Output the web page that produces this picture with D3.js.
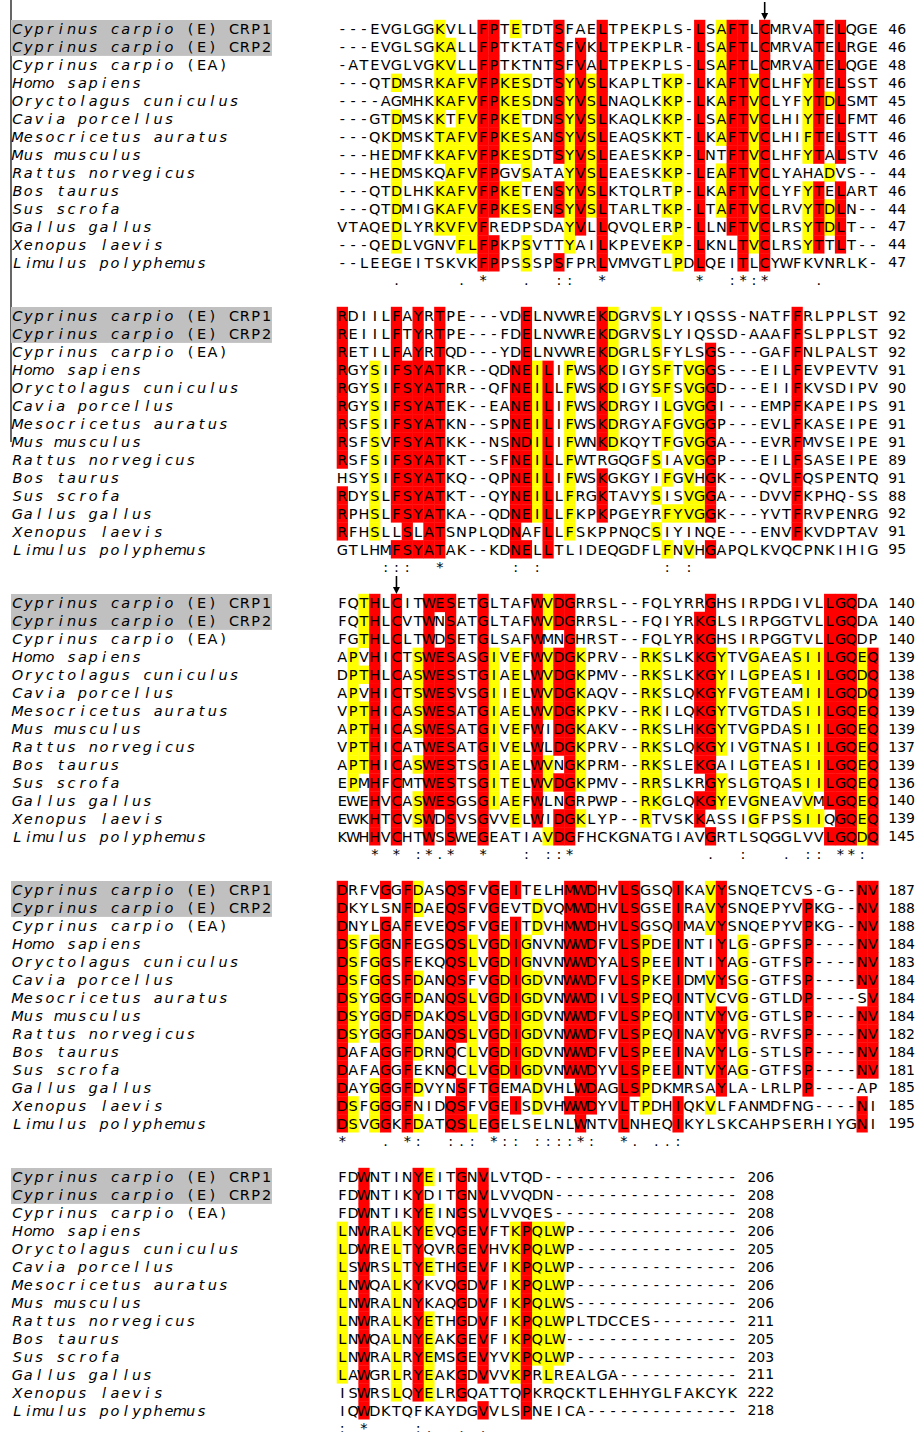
<!DOCTYPE html>
<html><head><meta charset="utf-8">
<script src="https://cdn.jsdelivr.net/npm/d3@7"></script>
<style>body{margin:0;background:#fff}svg{display:block}</style>
</head><body><svg id="c" width="917" height="1432"></svg>
<script>
// ---------- DATA ----------
const speciesNames = ["Cyprinus carpio","Cyprinus carpio","Cyprinus carpio","Homo sapiens","Oryctolagus cuniculus","Cavia porcellus","Mesocricetus auratus","Mus musculus","Rattus norvegicus","Bos taurus","Sus scrofa","Gallus gallus","Xenopus laevis","Limulus polyphemus"];
const nameSuffix = [" (E) CRP1"," (E) CRP2"," (EA)","","","","","","","","","","",""];
const highlightedNames = [0,1];

const block1 = [
"---EVGLGGKVLLFPTETDTSFAELTPEKPLS-LSAFTLCMRVATELQGE",
"---EVGLSGKALLFPTKTATSFVKLTPEKPLR-LSAFTLCMRVATELRGE",
"-ATEVGLVGKVLLFPTKTNTSFVALTPEKPLS-LSAFTLCMRVATELQGE",
"---QTDMSRKAFVFPKESDTSYVSLKAPLTKP-LKAFTVCLHFYTELSST",
"----AGMHKKAFVFPKESDNSYVSLNAQLKKP-LKAFTVCLYFYTDLSMT",
"---GTDMSKKTFVFPKETDNSYVSLKAQLKKP-LSAFTVCLHIYTELFMT",
"---QKDMSKTAFVFPKESANSYVSLEAQSKKT-LKAFTVCLHIFTELSTT",
"---HEDMFKKAFVFPKESDTSYVSLEAESKKP-LNTFTVCLHFYTALSTV",
"---HEDMSKQAFVFPGVSATAYVSLEAESKKP-LEAFTVCLYAHADVS--",
"---QTDLHKKAFVFPKETENSYVSLKTQLRTP-LKAFTVCLYFYTELART",
"---QTDMIGKAFVFPKESENSYVSLTARLTKP-LTAFTVCLRVYTDLN--",
"VTAQEDLYRKVFVFREDPSDAYVLLQVQLERP-LLNFTVCLRSYTDLT--",
"---QEDLVGNVFLFPKPSVTTYAILKPEVEKP-LKNLTVCLRSYTTLT--",
"--LEEGEITSKVKFPPSSSPSFPRLVMVGTLPDLQEITLCYWFKVNRLK-"];
const block2 = [
"RDIILFAYRTPE---VDELNVWREKDGRVSLYIQSSS-NATFFRLPPLST",
"REIILFTYRTPE---FDELNVWREKDGRVSLYIQSSD-AAAFFSLPPLST",
"RETILFAYRTQD---YDELNVWREKDGRLSFYLSGS---GAFFNLPALST",
"RGYSIFSYATKR--QDNEILIFWSKDIGYSFTVGGS---EILFEVPEVTV",
"RGYSIFSYATRR--QFNEILLFWSKDIGYSFSVGGD---EIIFKVSDIPV",
"RGYSIFSYATEK--EANEILIFWSKDRGYILGVGGI---EMPFKAPEIPS",
"RSFSIFSYATKN--SPNEILIFWSKDRGYAFGVGGP---EVLFKASEIPE",
"RSFSVFSYATKK--NSNDILIFWNKDKQYTFGVGGA---EVRFMVSEIPE",
"RSFSIFSYATKT--SFNEILLFWTRGQGFSIAVGGP---EILFSASEIPE",
"HSYSIFSYATKQ--QPNEILIFWSKGKGYIFGVHGK---QVLFQSPENTQ",
"RDYSLFSYATKT--QYNEILLFRGKTAVYSISVGGA---DVVFKPHQ-SS",
"RPHSLFSYATKA--QDNEILLFKPKPGEYRFYVGGK---YVTFRVPENRG",
"RFHSLLSLATSNPLQDNAFLLFSKPPNQCSIYINQE---ENVFKVDPTAV",
"GTLHMFSYATAK--KDNELLTLIDEQGDFLFNVHGAPQLKVQCPNKIHIG"];
const block3 = [
"FQTHLCITWESETGLTAFWVDGRRSL--FQLYRRGHSIRPDGIVLLGQDA",
"FQTHLCVTWNSATGLTAFWVDGRRSL--FQIYRKGLSIRPGGTVLLGQDA",
"FGTHLCLTWDSETGLSAFWMNGHRST--FQLYRKGHSIRPGGTVLLGQDP",
"APVHICTSWESASGIVEFWVDGKPRV--RKSLKKGYTVGAEASIILGQEQ",
"DPTHLCASWESSTGIAELWVDGKPMV--RKSLKKGYILGPEASIILGQDQ",
"APVHICTSWESVSGIIELWVDGKAQV--RKSLQKGYFVGTEAMIILGQDQ",
"VPTHICASWESATGIAELWVDGKPKV--RKILQKGYTVGTDASIILGQEQ",
"APTHICASWESATGIVEFWIDGKAKV--RKSLHKGYTVGPDASIILGQEQ",
"VPTHICATWESATGIVELWLDGKPRV--RKSLQKGYIVGTNASIILGQEQ",
"APTHICASWESTSGIAELWVNGKPRM--RKSLEKGAILGTEASIILGQEQ",
"EPMHFCMTWESTSGITELWVDGKPMV--RRSLKRGYSLGTQASIILGQEQ",
"EWEHVCASWESGSGIAEFWLNGRPWP--RKGLQKGYEVGNEAVVMLGQEQ",
"EWKHTCVSWDSVSGVVELWIDGKLYP--RTVSKKASSIGFPSSIIQGQEQ",
"KWHHVCHTWSSWEGEATIAVDGFHCKGNATGIAVGRTLSQGGLVVLGQDQ"];
const block4 = [
"DRFVGGFDASQSFVGEITELHMWDHVLSGSQIKAVYSNQETCVS-G--NV",
"DKYLSNFDAEQSFVGEVTDVQMWDHVLSGSEIRAVYSNQEPYVPKG--NV",
"DNYLGAFEVEQSFVGEITDVHMWDHVLSGSQIMAVYSNQEPYVPKG--NV",
"DSFGGNFEGSQSLVGDIGNVNWWDFVLSPDEINTIYLG-GPFSP----NV",
"DSFGGSFEKQQSLVGDIGNVNWWDYALSPEEINTIYAG-GTFSP----NV",
"DSFGGSFDANQSFVGDIGDVNWWDFVLSPKEIDMVYSG-GTFSP----NV",
"DSYGGGFDANQSLVGDIGDVNWWDIVLSPEQINTVCVG-GTLDP----SV",
"DSYGGDFDAKQSLVGDIGDVNWWDFVLSPEQINTVYVG-GTLSP----NV",
"DSYGGGFDANQSLVGDIGDVNWWDFVLSPEQINAVYVG-RVFSP----NV",
"DAFAGGFDRNQCLVGDIGDVNWWDFVLSPEEINAVYLG-STLSP----NV",
"DAFAGGFEKNQCLVGDIGDVNWWDYVLSPEEINTVYAG-GTFSP----NV",
"DAYGGGFDVYNSFTGEMADVHLWDAGLSPDKMRSAYLA-LRLPP----AP",
"DSFGGGFNIDQSFVGEISDVHWWDYVLTPDHIQKVLFANMDFNG----NI",
"DSVGGKFDATQSLEGELSELNLWNTVLNHEQIKYLSKCAHPSERHIYGNI"];
const block5 = [
"FDWNTINYEITGNVLVTQD------------------",
"FDWNTIKYDITGNVLVVQDN-----------------",
"FDWNTIKYEINGSVLVVQES-----------------",
"LNWRALKYEVQGEVFTKPQLWP---------------",
"LDWRELTYQVRGEVHVKPQLWP---------------",
"LSWRSLTYETHGEVFIKPQLWP---------------",
"LNWQALKYKVQGDVFIKPQLWP---------------",
"LNWRALNYKAQGDVFIKPQLWS---------------",
"LNWRALKYETHGDVFIKPQLWPLTDCCES--------",
"LNWQALNYEAKGEVFIKPQLW----------------",
"LNWRALRYEMSGEVYVKPQLWP---------------",
"LAWGRLRYEAKGDVVVKPRLREALGA-----------",
"ISWRSLQYELRGQATTQPKRQCKTLEHHYGLFAKCYK",
"IQWDKTQFKAYDGVVLSPNEICA--------------"];

const ends1 = [46,46,48,46,45,46,46,46,44,46,44,47,44,47];
const ends2 = [92,92,92,91,90,91,91,91,89,91,88,92,91,95];
const ends3 = [140,140,140,139,138,139,139,139,137,139,136,140,139,145];
const ends4 = [187,188,188,184,183,184,184,184,182,184,181,185,185,195];
const ends5 = [206,208,208,206,205,206,206,206,211,205,203,211,222,218];

// conservation symbols: [alignment column, symbol]
const cons1 = [[5,"."],[11,"."],[13,"*"],[17,"."],[20,":"],[21,":"],[24,"*"],[33,"*"],[36,":"],[37,"*"],[38,":"],[39,"*"],[44,"."]];
const cons2 = [[4,":"],[5,":"],[6,":"],[9,"*"],[16,":"],[18,":"],[30,":"],[32,":"]];
const cons3 = [[3,"*"],[5,"*"],[7,":"],[8,"*"],[9,"."],[10,"*"],[13,"*"],[17,":"],[19,":"],[20,":"],[21,"*"],[34,"."],[37,":"],[41,"."],[43,":"],[44,":"],[46,"*"],[47,"*"],[48,":"]];
const cons4 = [[0,"*"],[4,"."],[6,"*"],[7,":"],[10,":"],[11,"."],[12,":"],[14,"*"],[15,":"],[16,":"],[18,":"],[19,":"],[20,":"],[21,":"],[22,"*"],[23,":"],[26,"*"],[27,"."],[29,"."],[30,"."],[31,":"]];
const cons5 = [[0,":"],[2,"*"],[7,":"],[8,"."],[11,"."],[13,"."]];

// shading classes: [column, residues, class ("id" identical / "sim" similar), firstRow, lastRow]
const shade1 = [[5,"D","sim"],[9,"KT","sim",0,11],[10,"AV","sim",1,11],[11,"F","sim",3,12],[12,"VL","sim",3,12],[13,"F","id"],[14,"P","id"],[15,"K","sim",3,10],[16,"E","sim",0,10],[17,"S","sim"],[20,"S","id"],[21,"Y","sim"],[22,"V","id"],[23,"S","sim"],[24,"L","id"],[30,"K","sim",3,12],[31,"PT","sim",3,13],[33,"L","id"],[35,"A","sim"],[36,"F","id"],[37,"T","id"],[38,"V","sim"],[39,"C","id"],[43,"YF","sim",3,12],[44,"T","id"],[45,"D","sim"],[46,"L","id"]];
const shade2 = [[0,"R","id"],[3,"S","sim"],[5,"F","id"],[6,"S","id"],[7,"Y","id"],[8,"A","id"],[9,"T","id"],[16,"N","id",3,13],[17,"E","id"],[17,"D","id",7,7],[18,"I","sim",3,12],[19,"L","id",3,13],[21,"F","sim",3,12],[24,"K","id"],[25,"D","sim"],[29,"S","sim"],[30,"FL","sim",3,13],[31,"Y","sim",11,11],[32,"V","sim",3,13],[33,"G","sim",3,12],[34,"G","id"],[42,"F","id"]];
const shade3 = [[1,"P","sim",3,11],[2,"T","sim"],[3,"H","id"],[5,"C","id"],[7,"S","sim",3,13],[8,"W","id"],[9,"E","id"],[10,"S","id"],[13,"G","id"],[14,"I","sim",3,12],[16,"E","sim",3,13],[18,"W","id"],[19,"V","sim"],[20,"D","id"],[21,"G","id"],[22,"K","sim",3,13],[28,"R","sim",3,13],[29,"KR","sim",3,12],[33,"K","id"],[34,"G","id"],[35,"Y","sim",3,13],[38,"G","sim",3,13],[42,"S","sim",3,12],[43,"IV","sim",3,12],[44,"IV","sim",3,12],[45,"L","id"],[46,"G","id"],[47,"Q","id"],[48,"ED","sim",3,13],[49,"Q","id"]];
const shade4 = [[0,"D","id"],[1,"S","sim",3,13],[3,"G","sim",3,13],[4,"G","id"],[6,"F","id"],[7,"D","sim"],[10,"Q","id"],[11,"S","id"],[12,"L","sim"],[14,"G","id"],[15,"D","sim"],[16,"I","id"],[17,"G","sim"],[18,"D","sim"],[21,"MW","id",0,12],[22,"W","id"],[23,"D","id"],[26,"L","id"],[27,"S","id"],[28,"P","sim"],[31,"I","id"],[34,"V","sim"],[35,"Y","id"],[37,"G","sim"],[43,"P","id"],[48,"N","id"],[49,"V","id"]];
const shade5 = [[0,"L","sim",3,11],[2,"W","id"],[5,"L","sim",3,12],[7,"Y","id"],[8,"E","sim"],[11,"G","id"],[13,"V","id"],[16,"K","sim"],[17,"P","id"],[18,"Q","sim"],[19,"L","sim"],[20,"W","sim"]];

const arrowMarks = [{block:0, col:39},{block:2, col:5}];

// ---------- DRAW ----------
const blocks = [
  {seqs:block1, ends:ends1, cons:cons1, shade:shade1},
  {seqs:block2, ends:ends2, cons:cons2, shade:shade2},
  {seqs:block3, ends:ends3, cons:cons3, shade:shade3},
  {seqs:block4, ends:ends4, cons:cons4, shade:shade4},
  {seqs:block5, ends:ends5, cons:cons5, shade:shade5}];

const CW = 10.83, ROW_H = 17.95, BLOCK_H = 287, SEQ_OFF = 30, NCOL = 90;
const x = d3.scaleBand().domain(d3.range(NCOL)).range([12, 12 + NCOL*CW]);
const yRow = d3.scaleBand().domain(d3.range(15)).range([0, 15*ROW_H]);
const yBlock = d3.scaleBand().domain(d3.range(5)).range([20, 20 + 5*BLOCK_H]);
const shadeColor = d3.scaleOrdinal().domain(["sim","id"]).range(["#ffff00","#ff0000"]);
const cx = c => x(c) + x.bandwidth()/2;

const svg = d3.select("#c");
svg.append("rect").attr("width",917).attr("height",1432).attr("fill","#fff");
svg.append("line").attr("x1",11).attr("x2",11).attr("y1",0).attr("y2",442)
   .attr("stroke","#000").attr("stroke-width",1.2);

const FONT = "'DejaVu Sans', Verdana, sans-serif";

blocks.forEach((blk, b) => {
  const g = svg.append("g").attr("transform", `translate(0,${yBlock(b)})`);
  // shading cells
  const cells = [];
  blk.shade.forEach(([c, res, cls, r0=0, r1=13]) => {
    for (let r = r0; r <= r1; r++) {
      const ch = blk.seqs[r][c];
      if (ch && res.includes(ch)) cells.push({r, c, cls});
    }
  });
  cells.sort((a,b2) => (a.cls === "id") - (b2.cls === "id"));
  g.selectAll("rect.cell").data(cells).join("rect").attr("class","cell")
    .attr("x", d => x(SEQ_OFF + d.c) - 0.2)
    .attr("width", x.bandwidth() + 0.4)
    .attr("y", d => yRow(d.r) - 0.2)
    .attr("height", yRow.bandwidth() + 0.4)
    .attr("fill", d => shadeColor(d.cls));
  // grey name highlight
  g.append("rect")
    .attr("x", x(0) - 1).attr("width", 24*CW + 1)
    .attr("y", yRow(highlightedNames[0])).attr("height", yRow.bandwidth()*highlightedNames.length)
    .attr("fill", "#c0c0c0");

  // text rows
  blk.seqs.forEach((s, r) => {
    const t = g.append("text")
      .attr("y", yRow(r) + yRow.bandwidth()/2).attr("dy","0.36em")
      .attr("font-family", FONT).attr("font-size", 14.5).attr("fill","#000")
      .attr("text-anchor","middle");
    const addSeg = (str, startCol, italic) => {
      const chars = [], xs = [];
      [...str].forEach((ch,i) => { if (ch !== " ") { chars.push(ch); xs.push(cx(startCol+i).toFixed(2)); } });
      if (!chars.length) return;
      t.append("tspan").attr("x", xs.join(" ")).attr("font-style", italic ? "italic" : "normal").text(chars.join(""));
    };
    addSeg(speciesNames[r], 0, true);
    addSeg(nameSuffix[r], speciesNames[r].length, false);
    addSeg(s, SEQ_OFF, false);
    // residue number, in natural digit spacing
    g.append("text")
      .attr("x", x(SEQ_OFF + s.length + 1) - 1)
      .attr("y", yRow(r) + yRow.bandwidth()/2).attr("dy","0.36em")
      .attr("font-family", FONT).attr("font-size", 14).attr("fill","#000")
      .text(blk.ends[r]);
  });
  // conservation line
  g.append("g").selectAll("text").data(blk.cons).join("text")
    .attr("x", d => cx(SEQ_OFF + d[0]))
    .attr("y", yRow(14) + yRow.bandwidth()/2).attr("dy","0.36em")
    .attr("text-anchor","middle").attr("font-family", FONT).attr("font-size", 14.5)
    .text(d => d[1]);
});

// arrows marking columns
arrowMarks.forEach(a => {
  const ax = cx(SEQ_OFF + a.col), top = yBlock(a.block);
  svg.append("line").attr("x1",ax).attr("x2",ax).attr("y1",top-18).attr("y2",top-5)
     .attr("stroke","#000").attr("stroke-width",1.6);
  svg.append("path").attr("d",`M${ax-3.5},${top-7}L${ax+3.5},${top-7}L${ax},${top}Z`).attr("fill","#000");
});
</script></body></html>
